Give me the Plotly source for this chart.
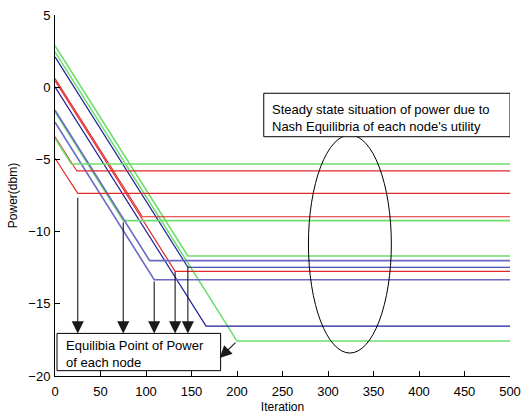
import plotly.graph_objects as go

# ---- data ----
start_power = [2.87, 2.45, 2.10, 0.60, 0.45, 0.03, -1.70, -1.60, -2.43, -3.43, -3.54, -4.92]
eq_iter = [146, 200, 146, 96, 132, 166, 75, 104, 109, 24, 18, 25]
steady_power = [-11.69, -17.58, -12.47, -8.97, -12.75, -16.54, -9.24, -12.01, -13.33, -5.80, -5.32, -7.35]
line_color = ["green", "green", "dblue", "red", "red", "dblue", "green", "lblue", "lblue", "red", "green", "red"]
last_iter = 500

arrow_x = [25, 75, 109, 132, 146]
arrow_tail_y = [-7.55, -9.25, -13.35, -12.7, -12.3]
arrow_tip_y = -17.05

palette = {"green": "#6ede6e", "red": "#e02a2a", "dblue": "#1e1e9a", "lblue": "#6a6ac6"}
widths = {"green": 1.6, "red": 1.2, "dblue": 1.2, "lblue": 1.6}

fig = go.Figure()
for p0, it, ps, c in zip(start_power, eq_iter, steady_power, line_color):
    fig.add_trace(go.Scatter(
        x=[0, it, last_iter], y=[p0, ps, ps], mode="lines",
        line=dict(color=palette[c], width=widths[c]), showlegend=False,
        hoverinfo="skip"))

FONT = "Liberation Sans, Arial, Helvetica, sans-serif"

shapes = [
    dict(type="circle", xref="x", yref="y", x0=278.5, x1=369.6, y0=-18.41, y1=-3.31,
         line=dict(color="black", width=1), layer="above"),
    dict(type="rect", xref="x", yref="y", x0=229.4, x1=500, y0=-3.43, y1=-0.42,
         line=dict(color="black", width=1), fillcolor="white", layer="above"),
    dict(type="rect", xref="x", yref="y", x0=2.2, x1=182, y0=-19.63, y1=-17.05,
         line=dict(color="black", width=1), fillcolor="white", layer="above"),
]

annotations = []
for ax_, ty in zip(arrow_x, arrow_tail_y):
    annotations.append(dict(
        x=ax_, y=arrow_tip_y, ax=ax_, ay=ty, xref="x", yref="y", axref="x", ayref="y",
        text="", showarrow=True, arrowhead=2, arrowsize=2.2, arrowwidth=1.1,
        arrowcolor="#1a1a1a"))
annotations.append(dict(
    x=181, y=-18.75, ax=200, ay=-17.58, xref="x", yref="y", axref="x", ayref="y",
    text="", showarrow=True, arrowhead=2, arrowsize=2.2, arrowwidth=1.1,
    arrowcolor="#1a1a1a"))
annotations.append(dict(
    x=9.5, y=-18.5, xref="x", yref="y", xanchor="left", yanchor="middle", align="left",
    text="Equilibia Point of Power<br>of each node", showarrow=False,
    font=dict(family=FONT, size=13, color="black")))
annotations.append(dict(
    x=236.5, y=-2.1, xref="x", yref="y", xanchor="left", yanchor="middle", align="left",
    text="Steady state situation of power due to<br>Nash Equilibria of each node's utility",
    showarrow=False, font=dict(family=FONT, size=13, color="black")))

fig.update_layout(
    width=522, height=414,
    margin=dict(l=55, r=12, t=15, b=38),
    paper_bgcolor="white", plot_bgcolor="white",
    font=dict(family=FONT, size=13, color="black"),
    shapes=shapes, annotations=annotations,
    xaxis=dict(range=[0, 500], tickvals=list(range(0, 501, 50)), showline=True,
               linecolor="black", linewidth=1, ticks="inside", ticklen=5,
               tickcolor="black", showgrid=False, zeroline=False, mirror=False,
               ticklabeloverflow="allow", ticklabelstandoff=3, automargin=False,
               title=dict(text="Iteration", font=dict(size=12), standoff=8),
               tickfont=dict(size=13)),
    yaxis=dict(range=[-20, 5], tickvals=[-20, -15, -10, -5, 0, 5], showline=True,
               linecolor="black", linewidth=1, ticks="inside", ticklen=5,
               tickcolor="black", showgrid=False, zeroline=False, mirror=False,
               ticklabelstandoff=1, automargin=False,
               title=dict(text="Power(dbm)", font=dict(size=12), standoff=8),
               tickfont=dict(size=13)),
)

fig.write_html("out.html")
